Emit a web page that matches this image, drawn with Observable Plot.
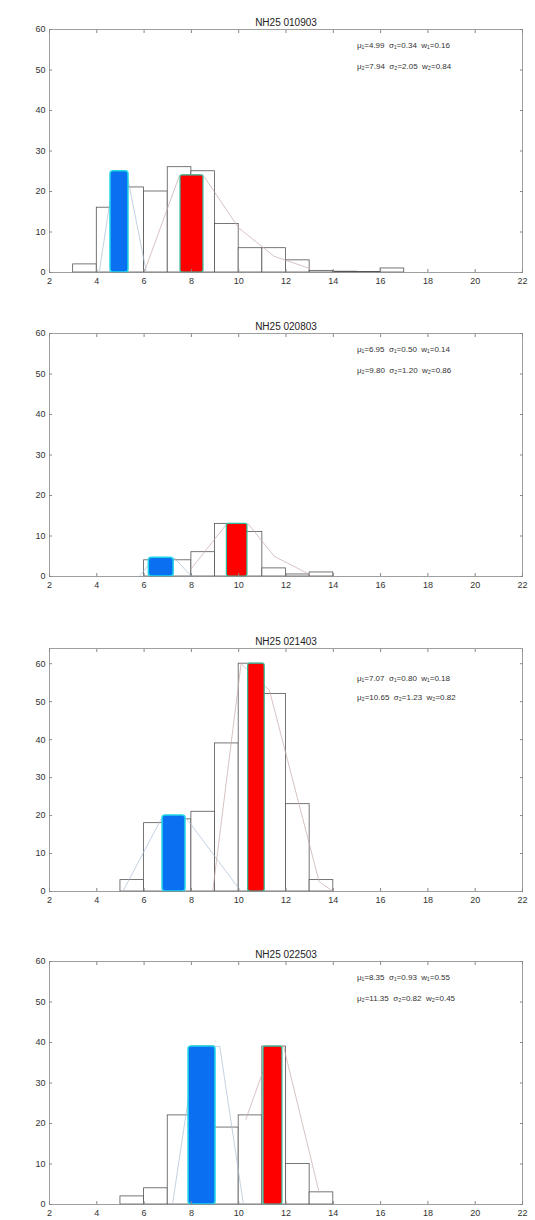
<!DOCTYPE html>
<html><head><meta charset="utf-8">
<script src="https://cdn.jsdelivr.net/npm/d3@7"></script>
<script src="https://cdn.jsdelivr.net/npm/@observablehq/plot@0.6"></script>
<style>
body{margin:0;background:#fff;font-family:"Liberation Sans",Arial,sans-serif;}
#wrap{position:relative;width:535px;height:1220px;overflow:hidden;background:#fff;}
.panel{position:absolute;left:0;}
</style></head><body><div id="wrap"></div>
<script>
// ---- data ----
const titles = ["NH25 010903", "NH25 020803", "NH25 021403", "NH25 022503"];
const binEdges = [2,3,4,5,6,7,8,9,10,11,12,13,14,15,16,17,18,19,20,21,22];
const counts1 = [0, 2, 16, 21, 20, 26, 25, 12, 6, 6, 3, 0.4, 0.2, 0.1, 1, 0, 0, 0, 0, 0];
const counts2 = [0, 0, 0, 0, 4, 4, 6, 13, 11, 2, 0.5, 1, 0, 0, 0, 0, 0, 0, 0, 0];
const counts3 = [0, 0, 0, 3, 18, 19, 21, 39, 60, 52, 23, 3, 0, 0, 0, 0, 0, 0, 0, 0];
const counts4 = [0, 0, 0, 2, 4, 22, 39, 19, 22, 39, 10, 3, 0, 0, 0, 0, 0, 0, 0, 0];
const params1 = ["μ₁=4.99  σ₁=0.34  w₁=0.16", "μ₂=7.94  σ₂=2.05  w₂=0.84"];
const params2 = ["μ₁=6.95  σ₁=0.50  w₁=0.14", "μ₂=9.80  σ₂=1.20  w₂=0.86"];
const params3 = ["μ₁=7.07  σ₁=0.80  w₁=0.18", "μ₂=10.65  σ₂=1.23  w₂=0.82"];
const params4 = ["μ₁=8.35  σ₁=0.93  w₁=0.55", "μ₂=11.35  σ₂=0.82  w₂=0.45"];
// component peak bars (blue = component 1, red = component 2)
const blueLo  = [4.58, 6.20, 6.78, 7.88];
const blueHi  = [5.34, 7.25, 7.75, 9.02];
const blueTop = [25, 4.6, 20, 39];
const redLo   = [7.54, 9.50, 10.40, 11.05];
const redHi   = [8.51, 10.37, 11.10, 11.85];
const redTop  = [24, 13, 60, 39];
// faint fitted component curves
const comp1X = [[4.1, 4.75, 5.25, 6.1], [5.8, 6.4, 7.3, 8.0], [5.1, 6.8, 7.7, 10.1], [7.2, 8.2, 9.2, 10.2]];
const comp1Y = [[0, 25, 25, 0], [0, 4.5, 4.5, 0], [0, 20, 20, 0], [0, 39, 39, 0]];
const comp2X = [[6.0, 7.5, 8.5, 10, 11.5, 13], [8.0, 9.5, 10.4, 11.5, 13], [8.9, 10.1, 11.3, 13.4, 14], [10.3, 11.4, 11.9, 13.4]];
const comp2Y = [[0, 24, 24, 11, 4, 1], [2, 13, 13, 5, 0.5], [0, 60, 53, 2.6, 0], [21, 39, 39, 3]];
const yMax = [60, 60, 64, 60];
const xTicks = [2,4,6,8,10,12,14,16,18,20,22];
const yTicks = [0,10,20,30,40,50,60];

const allCounts = [counts1, counts2, counts3, counts4];
const allParams = [params1, params2, params3, params4];
const panelTops = [0, 304, 619, 932];

const wrap = document.getElementById("wrap");
const font = "'Liberation Sans', Arial, sans-serif";
const noLabel = () => "";

for (let i = 0; i < 4; i++) {
  const hist = allCounts[i].map((c, k) => ({x1: binEdges[k], x2: binEdges[k + 1], y: c})).filter(d => d.y > 0);
  const c1 = comp1X[i].map((x, k) => ({x, y: comp1Y[i][k]}));
  const c2 = comp2X[i].map((x, k) => ({x, y: comp2Y[i][k]}));
  const blue = [{x1: blueLo[i], x2: blueHi[i], y: blueTop[i]}];
  const red = [{x1: redLo[i], x2: redHi[i], y: redTop[i]}];
  const params = allParams[i].map((t, k) => ({t, k}));
  const chart = Plot.plot({
    width: 535, height: 292,
    marginLeft: 49, marginRight: 13, marginTop: 29, marginBottom: 20,
    style: {fontFamily: font, fontSize: "9px", color: "#333", background: "transparent", overflow: "visible"},
    x: {domain: [2, 22]},
    y: {domain: [0, yMax[i]]},
    marks: [
      Plot.rectY(hist, {x1: "x1", x2: "x2", y: "y", fill: "white", stroke: "#555", strokeWidth: 0.8}),
      Plot.line(c1, {x: "x", y: "y", stroke: "#a9bfd6", strokeWidth: 0.7}),
      Plot.line(c2, {x: "x", y: "y", stroke: "#c9a8a8", strokeWidth: 0.7}),
      Plot.rectY(blue, {x1: "x1", x2: "x2", y: "y", fill: "#0a6ff0", stroke: "#1fd6e6", strokeWidth: 1.5, rx: 3}),
      Plot.rectY(red, {x1: "x1", x2: "x2", y: "y", fill: "#ff0000", stroke: "#2cbf9a", strokeWidth: 1.2, rx: 2}),
      Plot.frame({stroke: "#888", strokeWidth: 0.8}),
      Plot.axisX({ticks: xTicks, tickSize: 0, tickPadding: 5, label: null}),
      Plot.axisX({ticks: xTicks, tickSize: -3, tickFormat: noLabel, label: null, stroke: "#888"}),
      Plot.axisX({anchor: "top", ticks: xTicks, tickSize: -3, tickFormat: noLabel, label: null, stroke: "#888"}),
      Plot.axisY({ticks: yTicks, tickSize: 0, tickPadding: 4, label: null}),
      Plot.axisY({ticks: yTicks, tickSize: -3, tickFormat: noLabel, label: null, stroke: "#888"}),
      Plot.axisY({anchor: "right", ticks: yTicks, tickSize: -3, tickFormat: noLabel, label: null, stroke: "#888"}),
      Plot.text([titles[i]], {frameAnchor: "top", dy: -11, fontSize: 10, fill: "#222"}),
      Plot.text(params, {x: 15, y: d => d.k === 0 ? 56 : 51, text: "t", textAnchor: "start", fontSize: 8, fill: "#333"})
    ]
  });
  const div = document.createElement("div");
  div.className = "panel";
  div.style.top = panelTops[i] + "px";
  div.appendChild(chart);
  wrap.appendChild(div);
}
</script>
</body></html>
